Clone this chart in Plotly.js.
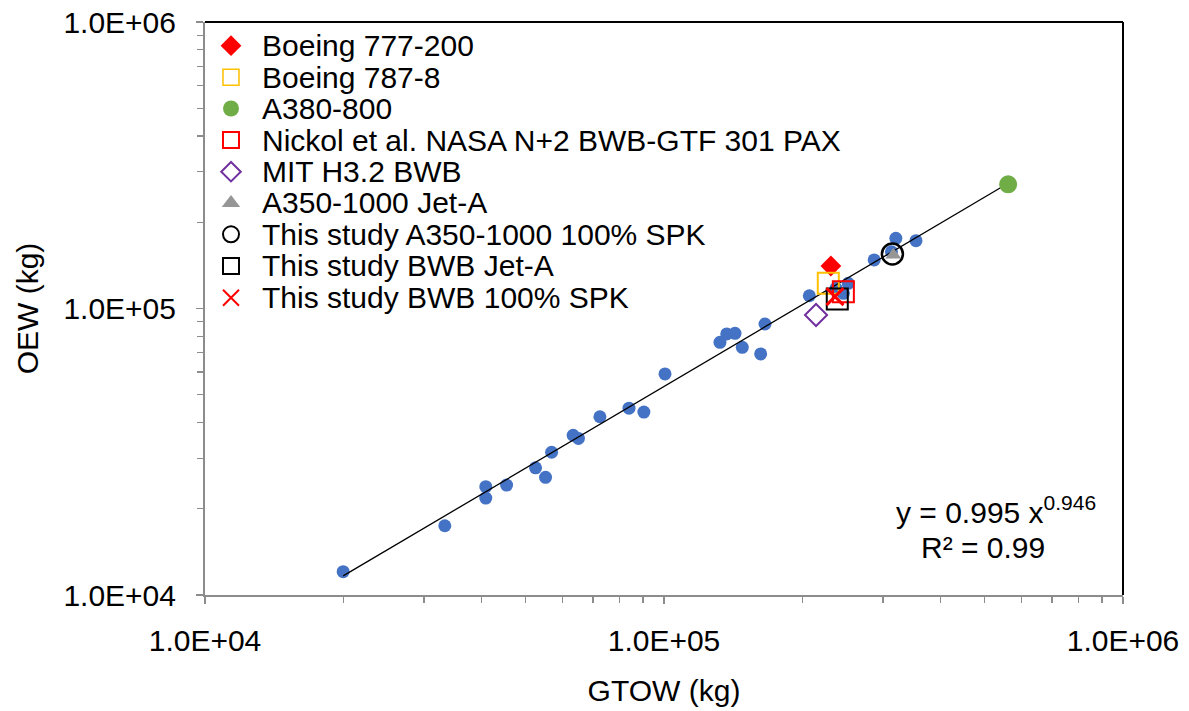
<!DOCTYPE html>
<html>
<head>
<meta charset="utf-8">
<script src="https://cdn.plot.ly/plotly-3.0.1.min.js"></script>
<style>html,body{margin:0;padding:0;background:#fff;}#chart{width:1189px;height:711px;}</style>
</head>
<body>
<div id="chart"></div>
<script>
// ---- Data ----
const fleetGTOW = [20000, 33300, 40900, 40900, 45400, 52500, 55200, 56900, 63400, 65100, 72500, 83900, 90400, 100500,
  132400, 137000, 142800, 148100, 162400, 166000, 207300, 237000, 252000, 245900, 287000, 320000, 354000, 313000];
const fleetOEW = [12060, 17450, 23880, 21800, 24200, 27800, 25750, 31500, 36100, 35200, 41900, 44900, 43500, 59100,
  76200, 81500, 81900, 73200, 69400, 88300, 110800, 117600, 122400, 113000, 147700, 175800, 172500, 157800];

const b777GTOW = [231000];  const b777OEW = [140700];
const b787GTOW = [228000];  const b787OEW = [122400];
const a380GTOW = [562000];  const a380OEW = [271400];
const nickolGTOW = [245900]; const nickolOEW = [114500];
const mitGTOW = [214400];   const mitOEW = [94900];
const a350GTOW = [316000];  const a350OEW = [153700];
const studyA350GTOW = [314500]; const studyA350OEW = [154900];
const studyBwbJetGTOW = [238500]; const studyBwbJetOEW = [108000];
const studyBwbSpkGTOW = [235800]; const studyBwbSpkOEW = [110000];

// Power-law fit shown on the chart: y = 0.995 x^0.946
const fitCoef = 0.995, fitExp = 0.946;
const fitGTOW = [20000, 562000];
const fitOEW = fitGTOW.map(x => fitCoef * Math.pow(x, fitExp));

const seriesNames = ["Boeing 777-200", "Boeing 787-8", "A380-800", "Nickol et al. NASA N+2 BWB-GTF 301 PAX",
  "MIT H3.2 BWB", "A350-1000 Jet-A", "This study A350-1000 100% SPK", "This study BWB Jet-A", "This study BWB 100% SPK"];

const tickVals = [1e4, 1e5, 1e6];
const tickText = ["1.0E+04", "1.0E+05", "1.0E+06"];
const minorVals = [2e4,3e4,4e4,5e4,6e4,7e4,8e4,9e4,2e5,3e5,4e5,5e5,6e5,7e5,8e5,9e5];

const xTitle = "GTOW (kg)";
const yTitle = "OEW (kg)";
const fitText1 = "y = 0.995 x<sup>0.946</sup>";
const fitText2 = "R² = 0.99";

// ---- Styles ----
const FONT = "Liberation Sans, Arial, sans-serif";
const FS = 30;
const markers = [
  {symbol: "diamond", size: 16, color: "#FF0000"},
  {symbol: "square-open", size: 21, color: "#FFC000", line: {color: "#FFC000", width: 2}},
  {symbol: "circle", size: 18, color: "#70AD47"},
  {symbol: "square-open", size: 21, color: "#FF0000", line: {color: "#FF0000", width: 2}},
  {symbol: "diamond-open", size: 17, color: "#7030A0", line: {color: "#7030A0", width: 2}},
  {symbol: "triangle-up", size: 14, color: "#969696"},
  {symbol: "circle-open", size: 21, color: "#000000", line: {color: "#000000", width: 2.5}},
  {symbol: "square-open", size: 21, color: "#000000", line: {color: "#000000", width: 2}},
  {symbol: "x-thin-open", size: 17, color: "#FF0000", line: {color: "#FF0000", width: 3}}
];
const legendMarkers = [
  {symbol: "diamond", size: 16, color: "#FF0000"},
  {symbol: "square-open", size: 16, color: "#FFC000", line: {color: "#FFC000", width: 1.5}},
  {symbol: "circle", size: 16, color: "#70AD47"},
  {symbol: "square-open", size: 16, color: "#FF0000", line: {color: "#FF0000", width: 2}},
  {symbol: "diamond-open", size: 15, color: "#7030A0", line: {color: "#7030A0", width: 2}},
  {symbol: "triangle-up", size: 16, color: "#969696"},
  {symbol: "circle-open", size: 16, color: "#000000", line: {color: "#000000", width: 2}},
  {symbol: "square-open", size: 16, color: "#000000", line: {color: "#000000", width: 2}},
  {symbol: "x-thin-open", size: 16, color: "#FF0000", line: {color: "#FF0000", width: 2}}
];

const specialX = [b777GTOW, b787GTOW, a380GTOW, nickolGTOW, mitGTOW, a350GTOW, studyA350GTOW, studyBwbJetGTOW, studyBwbSpkGTOW];
const specialY = [b777OEW, b787OEW, a380OEW, nickolOEW, mitOEW, a350OEW, studyA350OEW, studyBwbJetOEW, studyBwbSpkOEW];

const traces = [];
traces.push({x: fleetGTOW, y: fleetOEW, mode: "markers", type: "scatter", showlegend: false,
  marker: {symbol: "circle", size: 13, color: "#4472C4"}, hoverinfo: "x+y"});
traces.push({x: fitGTOW, y: fitOEW, mode: "lines", type: "scatter", showlegend: false,
  line: {color: "#000000", width: 1.3}, hoverinfo: "skip"});
const order = [2, 5, 0, 1, 4, 3, 6, 7, 8];
order.forEach(i => {
  traces.push({x: specialX[i], y: specialY[i], mode: "markers", type: "scatter", name: seriesNames[i],
    showlegend: false, marker: markers[i]});
});

// Custom legend (key markers on an overlay [0,1] axis, labels as annotations)
const plotL = 205, plotR = 1123, plotT = 22, plotB = 595;
const W = plotR - plotL, H = plotB - plotT;
const rowY = [45.7, 77.3, 108.5, 140, 171.7, 202.9, 234.3, 265.9, 297.7];
const keyX = 231, textX = 260;
const annotations = [];
seriesNames.forEach((name, i) => {
  const py = (plotB - rowY[i]) / H;
  traces.push({x: [(keyX - plotL) / W], y: [py], xaxis: "x2", yaxis: "y2", mode: "markers", type: "scatter",
    showlegend: false, hoverinfo: "skip", marker: legendMarkers[i]});
  annotations.push({xref: "paper", yref: "paper", x: (textX - plotL) / W, y: py, xanchor: "left", yanchor: "middle",
    text: name, showarrow: false, font: {family: FONT, size: FS, color: "#000"}});
});
annotations.push({xref: "paper", yref: "paper", x: (996 - plotL) / W, y: (plotB - 510) / H, xanchor: "center", yanchor: "middle",
  text: fitText1, showarrow: false, font: {family: FONT, size: FS, color: "#000"}});
annotations.push({xref: "paper", yref: "paper", x: (983 - plotL) / W, y: (plotB - 547) / H, xanchor: "center", yanchor: "middle",
  text: fitText2, showarrow: false, font: {family: FONT, size: FS, color: "#000"}});

const axisCommon = {
  type: "log", showgrid: false, zeroline: false, showline: true, linecolor: "#8c8c8c", linewidth: 2,
  ticks: "outside", ticklen: 7, tickwidth: 1.3, tickcolor: "#8c8c8c",
  tickmode: "array", tickvals: tickVals, ticktext: tickText,
  tickfont: {family: FONT, size: FS, color: "#000"},
  minor: {tickmode: "array", tickvals: minorVals, ticks: "outside", ticklen: 6, tickwidth: 1.2, tickcolor: "#8c8c8c", showgrid: false}
};

const layout = {
  width: 1189, height: 711,
  margin: {l: plotL, r: 1189 - plotR, t: plotT, b: 711 - plotB, pad: 0},
  paper_bgcolor: "#fff", plot_bgcolor: "#fff",
  showlegend: false,
  font: {family: FONT, color: "#000"},
  xaxis: Object.assign({}, axisCommon, {range: [4, 6], ticklabelstandoff: 11,
    title: {text: xTitle, font: {family: FONT, size: FS, color: "#000"}, standoff: 24}}),
  yaxis: Object.assign({}, axisCommon, {range: [4, 6], ticklabelstandoff: 14,
    title: {text: yTitle, font: {family: FONT, size: FS, color: "#000"}, standoff: 16}}),
  xaxis2: {overlaying: "x", range: [0, 1], visible: false, fixedrange: true},
  yaxis2: {overlaying: "y", range: [0, 1], visible: false, fixedrange: true},
  annotations: annotations,
  shapes: [
    {type: "line", xref: "paper", yref: "paper", x0: 0, x1: 1, y0: 1, y1: 1, line: {color: "#000", width: 2}},
    {type: "line", xref: "paper", yref: "paper", x0: 1, x1: 1, y0: 0, y1: 1, line: {color: "#000", width: 2}}
  ]
};

Plotly.newPlot("chart", traces, layout, {displayModeBar: false, staticPlot: true});
</script>
</body>
</html>
